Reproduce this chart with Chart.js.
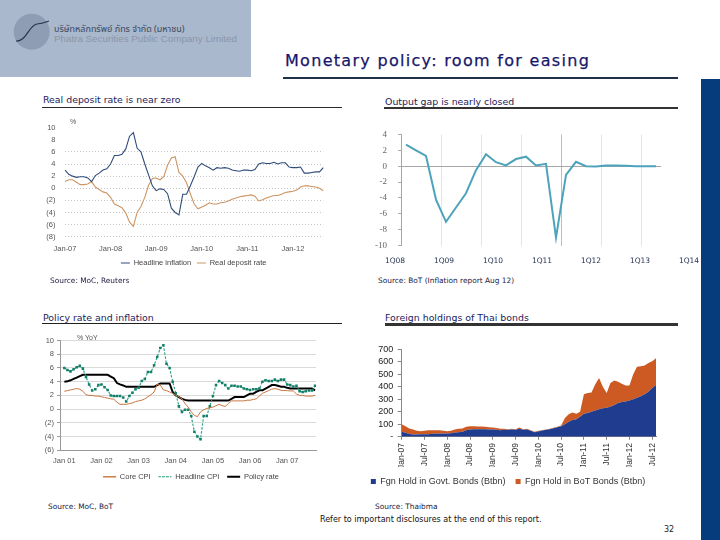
<!DOCTYPE html>
<html>
<head>
<meta charset="utf-8">
<script src="https://cdn.jsdelivr.net/npm/chart.js"></script>
<style>
  html, body { margin: 0; padding: 0; background: #fff; }
  body { width: 720px; height: 540px; position: relative; overflow: hidden; font-family: "DejaVu Sans", sans-serif; }
  .abs { position: absolute; white-space: nowrap; line-height: 1; }
  .bar { position: absolute; }
  canvas { position: absolute; }
  .ctitle { font-size: 9.4px; color: #1b1b5c; }
  .src { font-size: 7.4px; color: #1a1a40; }
  .unit { font-family: "Liberation Sans Narrow", "Liberation Sans", sans-serif; font-size: 7px; color: #555; }
</style>
</head>
<body>

<!-- logo block -->
<div class="bar" style="left:0;top:0;width:251px;height:77px;background:#a9b8cc"></div>
<svg style="position:absolute;left:0;top:0" width="60" height="60">
  <circle cx="31.7" cy="31.7" r="18" fill="#8e9db4"/>
  <path d="M16 41 C 26 42, 29 25, 37 24 S 45 22, 49 21" stroke="#26334d" stroke-width="1.2" fill="none"/>
</svg>
<div class="abs" style="left:54px;top:24.5px;font-size:9px;color:#3b4862;font-family:'Noto Sans Thai','Noto Sans','DejaVu Sans',sans-serif">บริษัทหลักทรัพย์ ภัทร จำกัด (มหาชน)</div>
<div class="abs" style="left:54px;top:33.5px;font-size:9.8px;color:#8a96ab;font-family:'Liberation Sans',sans-serif">Phatra Securities Public Company Limited</div>

<!-- slide title -->
<div class="abs" style="left:285px;top:53px;font-size:16px;letter-spacing:1.3px;color:#18166a;-webkit-text-stroke:0.25px #18166a">Monetary policy: room for easing</div>
<div class="bar" style="left:283px;top:76.5px;width:395px;height:2px;background:#1d3148"></div>

<!-- right bar -->
<div class="bar" style="left:701px;top:79px;width:19px;height:461px;background:#063c7c"></div>

<!-- panel titles -->
<div class="abs ctitle" style="left:43px;top:94.8px">Real deposit rate is near zero</div>
<div class="bar" style="left:42px;top:106.7px;width:300px;height:1.5px;background:#2d2d2d"></div>
<div class="abs ctitle" style="left:385px;top:97.4px">Output gap is nearly closed</div>
<div class="bar" style="left:384px;top:107.3px;width:294px;height:2px;background:#333"></div>
<div class="abs ctitle" style="left:43px;top:313.4px">Policy rate and inflation</div>
<div class="bar" style="left:42px;top:323.3px;width:300px;height:1px;background:#222"></div>
<div class="abs ctitle" style="left:385px;top:313.4px">Foreign holdings of Thai bonds</div>
<div class="bar" style="left:385px;top:323.3px;width:293px;height:2.4px;background:#333"></div>

<canvas id="c1" width="310" height="165" style="left:30px;top:112px"></canvas>
<canvas id="c2" width="330" height="152" style="left:372px;top:118px"></canvas>
<canvas id="c3" width="312" height="161" style="left:30px;top:330px"></canvas>
<canvas id="c4" width="342" height="158" style="left:360px;top:338px"></canvas>

<div class="abs unit" style="left:70px;top:118px">%</div>
<div class="abs unit" style="left:77px;top:333.5px">% YoY</div>

<!-- sources -->
<div class="abs src" style="left:50px;top:276.5px">Source: MoC, Reuters</div>
<div class="abs src" style="left:378px;top:277px">Source: BoT (Inflation report Aug 12)</div>
<div class="abs src" style="left:48px;top:503px">Source: MoC, BoT</div>
<div class="abs src" style="left:375px;top:503px">Source: Thaibma</div>
<div class="abs" style="left:320px;top:516px;font-size:8px;color:#111">Refer to important disclosures at the end of this report.</div>
<div class="abs" style="left:664px;top:526px;font-size:8px;color:#222">32</div>

<script>
// ---- Real deposit rate (monthly, Jan-07 .. Sep-12)
const headlineInflation = [
  3.0, 2.3, 2.0, 1.8, 1.9, 1.9, 1.7, 1.1, 2.1, 2.5, 3.0, 3.2,
  4.0, 5.4, 5.4, 5.6, 6.5, 8.6, 9.2, 6.6, 6.0, 4.0, 2.2, 0.4,
  -0.4, -0.1, -0.2, -0.9, -3.3, -4.0, -4.4, -1.0, -1.0, 0.4, 1.9, 3.5,
  4.1, 3.7, 3.4, 3.0, 3.4, 3.3, 3.4, 3.3, 3.0, 2.9, 2.8, 3.0,
  3.0, 2.9, 3.1, 4.0, 4.2, 4.1, 4.1, 4.3, 4.0, 4.2, 4.2, 3.5,
  3.4, 3.4, 3.5, 2.5, 2.5, 2.6, 2.7, 2.7, 3.4
];
const realDepositRate = [
  1.1, 1.4, 1.4, 1.0, 0.6, 0.6, 0.7, 1.1, 0.2, -0.2, -0.6, -0.8,
  -1.5, -2.6, -2.9, -3.2, -4.1, -5.6, -6.3, -4.0, -3.0, -1.5, 0.5, 1.6,
  1.7, 1.4, 1.9, 3.8, 5.0, 5.2, 2.6, 2.0, 0.9, -0.9, -2.6, -3.4,
  -3.1, -2.8, -2.4, -2.6, -2.6, -2.4, -2.3, -2.1, -1.8, -1.6, -1.4, -1.3,
  -1.2, -1.1, -1.3, -2.1, -1.9, -1.6, -1.4, -1.2, -1.2, -1.0, -0.7, -0.6,
  -0.5, -0.3, 0.2, 0.4, 0.4, 0.3, 0.2, 0.0, -0.4
];

// ---- Output gap (quarterly, 1Q08 .. 2Q14)
const outputGap = [2.7, 2.0, 1.3, -4.2, -7.0, -5.2, -3.4, -0.5, 1.5, 0.5, 0.1, 0.9, 1.2,
  0.1, 0.3, -9.0, -1.1, 0.55, 0.0, -0.05, 0.1, 0.1, 0.05, 0.0, 0.0, 0.0];
const gapTickLabels = ['1Q08', '1Q09', '1Q10', '1Q11', '1Q12', '1Q13', '1Q14'];

// ---- Policy rate and inflation (monthly, 82 points)
const coreCpi = [
  2.6, 2.7, 2.8, 2.9, 3.0, 2.9, 2.6, 2.1, 2.0, 2.0, 1.9, 1.9,
  1.8, 1.7, 1.6, 1.5, 1.45, 1.0, 0.7, 0.7, 0.7, 0.8, 0.9, 1.1,
  1.2, 1.3, 1.5, 1.8, 2.1, 2.5, 3.6, 3.5, 2.8, 2.7, 2.5, 2.3,
  2.0, 1.8, 1.5, 0.8, 0.3, -0.4, -0.9, -1.1, -0.4, -0.1, 0.1, 0.2,
  0.3, 0.5, 0.7, 0.5, 0.4, 0.8, 1.2, 1.2, 1.2, 1.2, 1.2, 1.3,
  1.3, 1.4, 1.5, 1.9, 2.3, 2.5, 2.7, 2.9, 3.0, 2.9, 2.75, 2.7,
  2.7, 2.65, 2.65, 2.2, 2.0, 2.0, 1.9, 1.9, 1.9, 2.0
];
const headlineCpi = [
  6.0, 5.7, 5.5, 5.8, 6.1, 6.3, 5.9, 4.7, 3.6, 2.7, 2.9, 3.5,
  3.6, 3.2, 2.8, 2.0, 1.9, 1.9, 1.9, 1.7, 1.1, 1.9, 2.4, 2.9,
  3.1, 4.1, 4.4, 5.4, 5.4, 6.4, 7.6, 8.9, 9.3, 6.6, 6.0, 4.0,
  2.3, 0.4, -0.4, -0.1, -0.1, -1.0, -3.3, -4.0, -4.4, -1.0, -1.0, 0.4,
  1.9, 3.5, 4.1, 3.8, 3.5, 3.0, 3.4, 3.4, 3.3, 3.3, 3.0, 2.9,
  2.8, 2.9, 2.9, 3.0, 4.0, 4.2, 4.1, 4.1, 4.3, 4.1, 4.3, 4.3,
  3.6, 3.5, 3.3, 3.4, 2.6, 2.5, 2.6, 2.7, 2.7, 3.4
];
const policyRate = [
  4.0, 4.05, 4.2, 4.4, 4.6, 4.8, 5.0, 5.0, 5.0, 5.0, 5.0, 5.0,
  5.0, 5.0, 5.0, 4.75, 4.5, 3.8, 3.6, 3.45, 3.25, 3.25, 3.25, 3.25,
  3.25, 3.25, 3.25, 3.25, 3.25, 3.25, 3.5, 3.75, 3.75, 3.75, 3.75, 2.5,
  2.0, 1.75, 1.5, 1.35, 1.25, 1.25, 1.25, 1.25, 1.25, 1.25, 1.25, 1.25,
  1.25, 1.25, 1.25, 1.25, 1.25, 1.25, 1.5, 1.75, 1.75, 1.75, 1.75, 2.0,
  2.25, 2.25, 2.5, 2.75, 2.75, 3.0, 3.25, 3.5, 3.5, 3.4, 3.25, 3.25,
  3.1, 3.0, 3.0, 3.0, 3.0, 3.0, 3.0, 3.0, 3.0, 2.75
];
const policyTicks = ['Jan 01', 'Jan 02', 'Jan 03', 'Jan 04', 'Jan 05', 'Jan 06', 'Jan 07'];
const policyTickIdx = [0, 12, 24, 36, 48, 60, 72];

// ---- Foreign holdings of Thai bonds (monthly, Jan-07 .. Aug-12, Bt bn)
const govBonds = [
  40, 32, 22, 19, 19, 21, 21, 21, 24, 24, 24, 27,
  27, 29, 35, 37, 40, 53, 59, 61, 61, 61, 61, 59,
  59, 56, 53, 56, 56, 59, 56, 64, 56, 59, 48, 37,
  43, 51, 56, 61, 69, 77, 85, 100, 120, 135, 140, 160,
  185, 190, 200, 210, 220, 228, 232, 240, 255, 270, 278, 283,
  290, 300, 312, 325, 340, 360, 390, 414
];
const botBonds = [
  60, 53, 45, 40, 29, 24, 27, 32, 29, 29, 29, 21,
  18, 19, 24, 27, 27, 27, 26, 24, 22, 22, 19, 18,
  16, 14, 11, 8, 5, 5, 5, 11, 5, 5, 5, 3,
  5, 2, 3, 3, 3, 3, 5, 50, 60, 60, 45, 40,
  155, 160, 155, 210, 250, 172, 118, 190, 195, 170, 147, 127,
  120, 200, 248, 240, 230, 230, 215, 214
];

const monthNames = ['Jan', 'Feb', 'Mar', 'Apr', 'May', 'Jun', 'Jul', 'Aug', 'Sep', 'Oct', 'Nov', 'Dec'];
const monthLabels = (yy, count) => Array.from({ length: count }, (_, i) =>
  monthNames[i % 12] + '-' + String(yy + Math.floor(i / 12)).padStart(2, '0'));
const realRateMonths = monthLabels(7, headlineInflation.length);
const bondMonths = monthLabels(7, govBonds.length);
const gapQuarters = outputGap.map((_, i) => (i % 4 + 1) + 'Q' + String(8 + Math.floor(i / 4)).padStart(2, '0'));

const parens = v => v < 0 ? '(' + (-v) + ')' : v;
const asXY = arr => arr.map((v, i) => ({ x: i, y: v }));
const clear = 'rgba(0,0,0,0)';

Chart.defaults.font.family = '"Liberation Sans Narrow", "Liberation Sans", Arial, sans-serif';
Chart.defaults.color = '#555';
Chart.defaults.animation = false;
Chart.defaults.plugins.tooltip.enabled = false;

// move a bottom legend sideways after layout
const legendShift = {
  id: 'legendShift',
  afterLayout(chart, args, opts) {
    if (chart.legend && opts.dx) {
      chart.legend.left += opts.dx;
      chart.legend.right += opts.dx;
    }
  }
};

// quarter labels of the output gap chart sit off the grid, as in the source
const quarterLabels = {
  id: 'quarterLabels',
  afterDraw(chart) {
    const x = chart.scales.x, ctx = chart.ctx;
    ctx.save();
    ctx.font = '7.5px "DejaVu Sans"';
    ctx.fillStyle = '#1f2d4d';
    ctx.textAlign = 'center';
    ctx.textBaseline = 'middle';
    gapTickLabels.forEach((t, i) => {
      ctx.fillText(t, x.getPixelForValue(-1.1 + i * 4.9), chart.chartArea.bottom + 15.5);
    });
    ctx.restore();
  }
};

// Real deposit rate
new Chart(document.getElementById('c1'), {
  type: 'line',
  data: {
    labels: realRateMonths,
    datasets: [
      { label: 'Headline inflation', data: headlineInflation, borderColor: '#2f4b7a', borderWidth: 1.1, pointRadius: 0 },
      { label: 'Real deposit rate', data: realDepositRate, borderColor: '#cd9563', borderWidth: 1.1, pointRadius: 0 }
    ]
  },
  options: {
    responsive: false,
    layout: { padding: { top: 15.7, right: 16.7, bottom: 0.25, left: 0 } },
    plugins: {
      legend: { position: 'bottom', labels: { font: { size: 7.5 }, color: '#444', boxWidth: 9, boxHeight: 0, padding: 5.75 } },
      legendShift: { dx: 17 }
    },
    scales: {
      x: {
        grid: { display: false, drawTicks: false },
        border: { display: false },
        ticks: {
          autoSkip: false, maxRotation: 0, padding: 7.8, font: { size: 7.5 }, color: '#555',
          callback(v) { const l = this.getLabelForValue(v); return l.startsWith('Jan') ? l : ''; }
        },
        afterFit(s) { s.height = 16.8; }
      },
      y: {
        min: -8, max: 10,
        ticks: { stepSize: 2, autoSkip: false, padding: 9.5, font: { size: 7.5 }, color: '#555', callback: parens },
        grid: { drawTicks: false, color: c => c.tick && c.tick.value <= 6 ? '#c4c4c4' : clear },
        border: { display: false, dash: [1, 2] },
        afterFit(s) { s.width = 35; }
      }
    }
  },
  plugins: [legendShift]
});

// Output gap
new Chart(document.getElementById('c2'), {
  type: 'line',
  data: {
    labels: gapQuarters,
    datasets: [{ label: 'Output gap', data: outputGap, borderColor: '#4da3bb', borderWidth: 2, pointRadius: 0 }]
  },
  options: {
    responsive: false,
    layout: { padding: { top: 11.3, right: 41, bottom: 24.3, left: 0 } },
    plugins: { legend: { display: false } },
    scales: {
      x: {
        offset: true,
        grid: {
          offset: true, drawTicks: false,
          color: c => c.index === 16 ? '#bdbdbd' : (c.index > 0 && c.index % 4 === 0 ? '#e6e6e6' : clear)
        },
        border: { display: false },
        ticks: { display: false, autoSkip: false },
        afterFit(s) { s.height = 0; }
      },
      y: {
        min: -10, max: 4,
        ticks: { stepSize: 2, autoSkip: false, padding: 11, font: { family: '"Liberation Serif", serif', size: 9 }, color: '#666' },
        grid: { color: c => c.tick && c.tick.value === 0 ? '#a6a6a6' : clear, tickLength: 3, tickColor: '#aaa' },
        border: { color: '#a6a6a6' },
        afterFit(s) { s.width = 29; }
      }
    }
  },
  plugins: [quarterLabels]
});

// Policy rate and inflation
new Chart(document.getElementById('c3'), {
  type: 'line',
  data: {
    datasets: [
      { label: 'Core CPI', data: asXY(coreCpi), borderColor: '#c8763f', borderWidth: 1, pointRadius: 0 },
      { label: 'Headline CPI', data: asXY(headlineCpi), borderColor: '#23a07f', borderWidth: 1.1, borderDash: [2.5, 1.5],
        pointStyle: 'rect', pointRadius: 1.8, pointBackgroundColor: '#14806a', pointBorderWidth: 0 },
      { label: 'Policy rate', data: asXY(policyRate), borderColor: '#000', borderWidth: 2, pointRadius: 0 }
    ]
  },
  options: {
    responsive: false,
    layout: { padding: { top: 10.5, right: 26, bottom: 0.45, left: 0 } },
    plugins: {
      legend: { position: 'bottom', labels: { font: { size: 7.5 }, color: '#444', boxWidth: 13, boxHeight: 0, padding: 7.75 } },
      legendShift: { dx: 18 }
    },
    scales: {
      x: {
        type: 'linear', min: -1.4, max: 81.3,
        grid: { display: false, drawTicks: false },
        border: { color: '#999' },
        afterBuildTicks(a) { a.ticks = policyTickIdx.map(v => ({ value: v })); },
        ticks: { autoSkip: false, maxRotation: 0, padding: 5.9, font: { size: 7.5 }, color: '#555', callback: (v, i) => policyTicks[i] },
        afterFit(s) { s.height = 15; }
      },
      y: {
        min: -6, max: 10,
        ticks: { stepSize: 2, autoSkip: false, padding: 3, font: { size: 7.5 }, color: '#555', callback: parens },
        grid: { color: '#dadada', tickLength: 3, tickColor: '#999' },
        border: { color: '#999' },
        afterFit(s) { s.width = 30; }
      }
    }
  },
  plugins: [legendShift]
});

// Foreign holdings of Thai bonds
new Chart(document.getElementById('c4'), {
  type: 'line',
  data: {
    labels: bondMonths,
    datasets: [
      { label: 'Fgn Hold in Govt. Bonds (Btbn)', data: govBonds, backgroundColor: '#1f3c8f', borderColor: '#1f3c8f', borderWidth: 0, pointRadius: 0, fill: 'origin' },
      { label: 'Fgn Hold in BoT Bonds (Btbn)', data: botBonds, backgroundColor: '#cc5a22', borderColor: '#cc5a22', borderWidth: 0, pointRadius: 0, fill: '-1' }
    ]
  },
  options: {
    responsive: false,
    layout: { padding: { top: 11.3, right: 46, bottom: 0, left: 0 } },
    plugins: {
      legend: { position: 'bottom', labels: { font: { size: 9 }, color: '#333', boxWidth: 5, boxHeight: 5, padding: 10.2 } },
      legendShift: { dx: 24 }
    },
    scales: {
      x: {
        grid: { drawOnChartArea: false, tickLength: 3, color: c => c.index % 6 === 0 ? '#888' : clear },
        border: { color: '#888' },
        ticks: {
          autoSkip: false, minRotation: 90, maxRotation: 90, padding: 3.3, font: { size: 8.5 }, color: '#333',
          callback(v) { const l = this.getLabelForValue(v); return (l.startsWith('Jan') || l.startsWith('Jul')) ? l : ''; }
        },
        afterFit(s) { s.height = 30; }
      },
      y: {
        stacked: true, min: 0, max: 700,
        ticks: { stepSize: 100, autoSkip: false, padding: 4.4, font: { size: 9 }, color: '#222', callback: v => v === 0 ? '-' : v },
        grid: { drawOnChartArea: false, tickLength: 4, color: '#888' },
        border: { color: '#888' },
        afterFit(s) { s.width = 41.7; }
      }
    }
  }
});
</script>
</body>
</html>
